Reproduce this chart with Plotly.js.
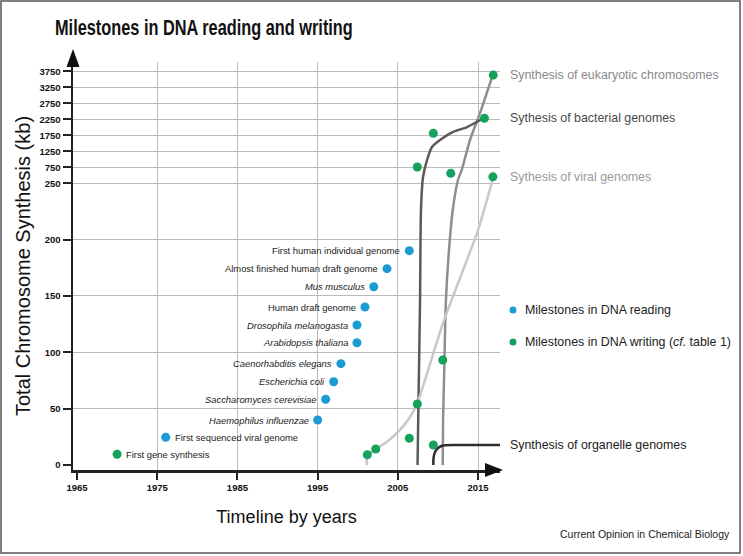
<!DOCTYPE html>
<html>
<head>
<meta charset="utf-8">
<script src="https://cdn.plot.ly/plotly-3.0.1.min.js"></script>
<style>html,body{margin:0;padding:0;background:#fff;}#chart{width:743px;height:556px;}</style>
</head>
<body>
<div id="chart"></div>
<script>
// ---------- data ----------
const yTickKb = [0, 50, 100, 150, 200, 250, 750, 1250, 1750, 2250, 2750, 3250, 3750];
const xTickYears = [1965, 1975, 1985, 1995, 2005, 2015];

const readNames = ["First sequenced viral genome", "<i>Haemophilus influenzae</i>", "<i>Saccharomyces cerevisiae</i>",
  "<i>Escherichia coli</i>", "<i>Caenorhabditis elegans</i>", "<i>Arabidopsis thaliana</i>",
  "<i>Drosophila melanogasta</i>", "Human draft genome", "<i>Mus musculus</i>",
  "Almost finished human draft genome", "First human individual genome"];
const readYears = [1976.06, 1995.0, 1996.0, 1997.0, 1997.9, 1999.9, 1999.9, 2000.9, 2002.0, 2003.65, 2006.43];
const readKb = [24.6, 39.9, 58.3, 73.9, 89.9, 108.5, 124.2, 140.2, 158.2, 174.2, 190.2];

const writeNames = ["First gene synthesis", "", "", "", "", "", "", "", "", "", "", "", ""];
const writeYears = [1970.0, 2001.2, 2002.24, 2006.43, 2007.43, 2009.43, 2010.6, 2007.43, 2009.43, 2011.6, 2015.8, 2016.9, 2016.85];
const writeKb = [9.5, 9.1, 14.2, 23.7, 54.1, 17.7, 93.2, 757, 1810, 560, 2280, 3630, 450];

const viralYears = [2001.16, 2001.16, 2001.78, 2002.28, 2003.78, 2005.27, 2006.52, 2007.39, 2010.64, 2015.0, 2016.9];
const viralKb = [0, 8.0, 11.5, 14.2, 21.3, 31.1, 42.6, 54.1, 126.0, 208.5, 444];

const bactYears = [2007.46, 2007.58, 2007.77, 2007.89, 2008.14, 2008.64, 2009.26, 2010.26, 2011.88, 2013.63, 2015.75];
const bactKb = [0, 57.7, 146.4, 226.3, 444, 975, 1384, 1602, 1852, 2007, 2289];

const eukYears = [2010.6, 2010.64, 2010.76, 2011.0, 2011.38, 2011.85, 2012.5, 2012.97, 2014.0, 2015.25, 2016.83];
const eukKb = [0, 39.9, 75.4, 146.4, 190.8, 226.3, 352, 665, 1602, 2444, 3630];

const orgYears = [2009.43, 2009.45, 2009.64, 2010.01, 2010.64, 2012.13, 2017.74];
const orgKb = [0, 6.2, 11.5, 15.1, 17.3, 17.7, 17.7];

const curveNames = ["Synthesis of eukaryotic chromosomes", "Sythesis of bacterial genomes", "Sythesis of viral genomes", "Synthesis of organelle genomes"];
const legendNames = ["Milestones in DNA reading", "Milestones in DNA writing (<i>cf.</i> table 1)"];

// ---------- broken y scale: linear to 250 kb, compressed above ----------
const BREAK = 250, HIGH = 0.0284;
function yPos(kb) { return kb <= BREAK ? kb : BREAK + (kb - BREAK) * HIGH; }

const FONT = "Liberation Sans, Arial, Helvetica, sans-serif";
const BLUE = "#1b9bd3", GREEN = "#14a15c";

function curve(xs, ys, color, w) {
  return {x: xs, y: ys.map(yPos), type: "scatter", mode: "lines", showlegend: false, hoverinfo: "skip",
    line: {color: color, width: w, shape: "spline", smoothing: 0.7}};
}
const curves = [
  {xs: eukYears, ys: eukKb, line: "#8e8e8e", text: "#8a8a8a"},
  {xs: bactYears, ys: bactKb, line: "#5a5a5a", text: "#4a4a4a"},
  {xs: viralYears, ys: viralKb, line: "#c8c8c8", text: "#9a9a9a"},
  {xs: orgYears, ys: orgKb, line: "#2c2c2c", text: "#222222"}
];
const traces = curves.map(c => curve(c.xs, c.ys, c.line, 2.5));

traces.push({x: readYears, y: readKb.map(yPos), type: "scatter", mode: "markers", name: legendNames[0],
  showlegend: false, cliponaxis: false, marker: {color: BLUE, size: 9}});
traces.push({x: writeYears, y: writeKb.map(yPos), type: "scatter", mode: "markers", name: legendNames[1],
  showlegend: false, cliponaxis: false, marker: {color: GREEN, size: 9}});

const annotations = [];
readNames.forEach((t, i) => {
  const right = i === 0;
  annotations.push({x: readYears[i], y: yPos(readKb[i]), xref: "x", yref: "y", text: t, showarrow: false,
    xanchor: right ? "left" : "right", xshift: right ? 7 : -7, font: {family: FONT, size: 9.4, color: "#222"}});
});
writeNames.forEach((t, i) => {
  if (!t) return;
  annotations.push({x: writeYears[i], y: yPos(writeKb[i]), xref: "x", yref: "y", text: t, showarrow: false,
    xanchor: "left", xshift: 7, font: {family: FONT, size: 9.4, color: "#222"}});
});
curves.forEach((c, i) => {
  annotations.push({x: 1.0187, xref: "paper", y: yPos(c.ys[c.ys.length - 1]), yref: "y", text: curveNames[i],
    showarrow: false, xanchor: "left", font: {family: FONT, size: 12.4, color: c.text}});
});
// legend (drawn manually)
const legendY = [0.3922, 0.3137];
const legendColors = [BLUE, GREEN];
const shapes = [];
legendNames.forEach((t, i) => {
  annotations.push({x: 1.0539, xref: "paper", y: legendY[i], yref: "paper", text: t, showarrow: false,
    xanchor: "left", yanchor: "middle", font: {family: FONT, size: 12.4, color: "#222"}});
  shapes.push({type: "circle", xref: "paper", yref: "paper", x0: 1.0222, x1: 1.0386,
    y0: legendY[i] - 0.0086, y1: legendY[i] + 0.0086, fillcolor: legendColors[i], line: {width: 0}});
});
annotations.push({x: 1.5433, xref: "paper", y: -0.157, yref: "paper", text: "Current Opinion in Chemical Biology",
  showarrow: false, xanchor: "right", yanchor: "middle", font: {family: FONT, size: 10.5, color: "#222"}});

shapes.push(
  {type: "path", xref: "paper", yref: "paper", path: "M0.9649,0.01716 L0.9649,-0.01716 L1.0070,0 Z", fillcolor: "#111", line: {width: 0}},
  {type: "path", xref: "paper", yref: "paper", path: "M-0.01522,0.9877 L0.01522,0.9877 L0,1.0319 Z", fillcolor: "#111", line: {width: 0}},
  {type: "rect", xref: "paper", yref: "paper", x0: -0.1686, x1: 1.5621, y0: -0.2034, y1: 1.1495, line: {color: "#555", width: 1.5}}
);

const layout = {
  width: 743, height: 556,
  margin: {l: 73, r: 243, t: 62, b: 86},
  showlegend: false,
  paper_bgcolor: "#fff", plot_bgcolor: "#fff",
  font: {family: FONT, color: "#222"},
  title: {text: "Milestones in DNA reading and writing", x: 55 / 743, xanchor: "left", xref: "container",
    y: 1 - 27 / 556, yanchor: "middle", yref: "container",
    font: {family: FONT, size: 21.5, weight: "bold", color: "#111"}},
  xaxis: {range: [1964.5, 2017.74], tickmode: "array", tickvals: xTickYears, ticktext: xTickYears.map(String),
    showgrid: false, zeroline: false, showline: true, linecolor: "#222", linewidth: 2.5,
    ticks: "outside", ticklen: 7, tickwidth: 2, tickcolor: "#222",
    tickfont: {family: FONT, size: 9.5, weight: "bold", color: "#111"},
    minor: {tickmode: "array", tickvals: xTickYears.slice(1), showgrid: true, gridcolor: "#bbbbbb", gridwidth: 1, ticks: ""},
    title: {text: "Timeline by years", standoff: 19, font: {family: FONT, size: 18, color: "#111"}}},
  yaxis: {range: [-4.44, 357.6], tickmode: "array", tickvals: yTickKb.map(yPos), ticktext: yTickKb.map(String),
    showgrid: false, zeroline: false, showline: true, linecolor: "#222", linewidth: 2.5,
    ticks: "outside", ticklen: 8, tickwidth: 2, tickcolor: "#222",
    tickfont: {family: FONT, size: 9.5, weight: "bold", color: "#111"},
    minor: {tickmode: "array", tickvals: yTickKb.slice(1).map(yPos), showgrid: true, gridcolor: "#bbbbbb", gridwidth: 1, ticks: ""},
    title: {text: "Total Chromosome Synthesis (kb)", standoff: 4, font: {family: FONT, size: 20, color: "#111"}}},
  annotations: annotations,
  shapes: shapes
};

Plotly.newPlot("chart", traces, layout, {displayModeBar: false, staticPlot: true}).then(gd => {
  // the original title uses a condensed bold face: compress it horizontally
  const t = gd.querySelector(".gtitle");
  if (t) {
    const x = parseFloat(t.getAttribute("x")) || 0;
    t.setAttribute("transform", "translate(" + x + ",0) scale(0.76,1) translate(" + (-x) + ",0)");
  }
});
</script>
</body>
</html>
